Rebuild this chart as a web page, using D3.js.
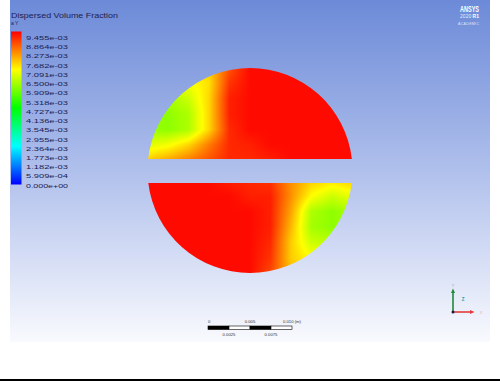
<!DOCTYPE html>
<html>
<head>
<meta charset="utf-8">
<script src="https://cdn.jsdelivr.net/npm/d3@7"></script>
<style>
  html, body { margin: 0; padding: 0; background: #fff; overflow: hidden; }
  svg { display: block; }
</style>
</head>
<body>
<script>
// ---- Legend ----
const legendTitle = "Dispersed Volume Fraction";
const legendSubtitle = "a Y";
const legendLabels = [
  "9.455e-03", "8.864e-03", "8.273e-03", "7.682e-03", "7.091e-03", "6.500e-03",
  "5.909e-03", "5.318e-03", "4.727e-03", "4.136e-03", "3.545e-03", "2.955e-03",
  "2.364e-03", "1.773e-03", "1.182e-03", "5.909e-04", "0.000e+00"
];
const legendMin = 0;       // x 1e-3
const legendMax = 9.455;   // x 1e-3

// ---- Field samples on the cross-section (values x 1e-3) ----
// columns: normalised horizontal position across the pipe (-1 .. 1)
const fieldCols = [-1.0, -0.8, -0.6, -0.4, -0.2, 0.0, 0.2, 0.4, 0.6, 0.8, 1.0];
// upper segment rows: normalised vertical position (top -> cut)
const upperRows = [1.0, 0.85, 0.7, 0.55, 0.4, 0.25, 0.1];
const upperValues = [
  [7.37, 7.37, 7.37, 7.56, 8.70, 9.36, 9.36, 9.36, 9.36, 9.36, 9.36],
  [7.00, 7.00, 7.00, 7.37, 8.98, 9.36, 9.36, 9.36, 9.36, 9.36, 9.36],
  [6.24, 6.24, 6.62, 7.47, 9.17, 9.36, 9.36, 9.36, 9.36, 9.36, 9.36],
  [6.05, 6.05, 6.33, 7.47, 9.17, 9.36, 9.36, 9.36, 9.36, 9.36, 9.36],
  [6.15, 6.05, 6.33, 7.47, 9.08, 9.36, 9.36, 9.36, 9.36, 9.36, 9.36],
  [6.81, 7.00, 7.47, 8.32, 9.08, 9.17, 9.36, 9.36, 9.36, 9.36, 9.36],
  [7.56, 7.94, 8.32, 8.70, 9.08, 9.08, 9.17, 9.36, 9.36, 9.36, 9.36]
];
// lower segment rows: normalised vertical position (cut -> bottom)
const lowerRows = [-0.1, -0.25, -0.4, -0.55, -0.7, -0.85, -1.0];
const lowerValues = [
  [9.36, 9.36, 9.36, 9.36, 9.17, 9.08, 8.98, 8.13, 7.56, 7.37, 7.56],
  [9.36, 9.36, 9.36, 9.36, 9.36, 9.17, 9.17, 8.13, 7.09, 6.62, 6.90],
  [9.36, 9.36, 9.36, 9.36, 9.36, 9.36, 9.17, 7.94, 6.33, 6.05, 6.33],
  [9.36, 9.36, 9.36, 9.36, 9.36, 9.36, 9.17, 7.75, 6.24, 6.05, 6.24],
  [9.36, 9.36, 9.36, 9.36, 9.36, 9.36, 9.08, 7.56, 6.62, 6.43, 6.62],
  [9.36, 9.36, 9.36, 9.36, 9.36, 9.36, 8.98, 7.56, 7.09, 7.09, 7.09],
  [9.36, 9.36, 9.36, 9.36, 9.36, 9.36, 8.79, 7.75, 7.19, 7.19, 7.19]
];
// the removed band between the two segments (normalised vertical)
const cutUpper = 0.112;
const cutLower = -0.122;

// ---- Scale bar ----
const scaleTopValues = [0, 0.005, 0.01];
const scaleTopLabels = ["0", "0.005", "0.010 (m)"];
const scaleBottomValues = [0.0025, 0.0075];
const scaleBottomLabels = ["0.0025", "0.0075"];

// ---- Drawing ----
const W = 500, H = 381;
const svg = d3.select("body").append("svg").attr("width", W).attr("height", H);
const defs = svg.append("defs");

// viewport background: blue-to-white gradient
const bg = defs.append("linearGradient").attr("id", "bg")
  .attr("x1", 0).attr("y1", 0).attr("x2", 0).attr("y2", 1);
bg.append("stop").attr("offset", 0).attr("stop-color", "rgb(108,138,216)");
bg.append("stop").attr("offset", 0.5).attr("stop-color", "rgb(176,192,236)");
bg.append("stop").attr("offset", 1).attr("stop-color", "rgb(249,250,254)");
svg.append("rect").attr("x", 10).attr("y", 0).attr("width", 480).attr("height", 342)
  .attr("fill", "url(#bg)");

// bottom rule
svg.append("rect").attr("x", 0).attr("y", 379).attr("width", W).attr("height", 2).attr("fill", "#000");

// colour map: rainbow hue from blue (min) to red (max)
const hue = d3.scaleLinear().domain([legendMin, legendMax]).range([240, 0]).clamp(true);
const colorOf = v => d3.hsl(hue(v), 1, 0.5).rgb();

// geometry of the section
const cx = 250, cy = 170.5, R = 102.5;
const xU = d3.scaleLinear().domain([-1, 1]).range([cx - R, cx + R]);
const yV = d3.scaleLinear().domain([-1, 1]).range([cy + R, cy - R]);
const colIndex = d3.scaleLinear().domain([fieldCols[0], fieldCols[fieldCols.length - 1]])
  .range([0, fieldCols.length - 1]).clamp(true);

function sampler(rows, values) {
  const rowIndex = d3.scaleLinear().domain([rows[0], rows[rows.length - 1]])
    .range([0, rows.length - 1]).clamp(true);
  return (u, v) => {
    const ci = colIndex(u), ri = rowIndex(v);
    const i0 = Math.floor(ci), j0 = Math.floor(ri);
    const i1 = Math.min(i0 + 1, fieldCols.length - 1), j1 = Math.min(j0 + 1, rows.length - 1);
    const tx = ci - i0, ty = ri - j0;
    const a = values[j0][i0] * (1 - tx) + values[j0][i1] * tx;
    const b = values[j1][i0] * (1 - tx) + values[j1][i1] * tx;
    return a * (1 - ty) + b * ty;
  };
}
const upperField = sampler(upperRows, upperValues);
const lowerField = sampler(lowerRows, lowerValues);

// rasterise the contour field
const canvas = document.createElement("canvas");
canvas.width = W; canvas.height = H;
const ctx = canvas.getContext("2d");
const img = ctx.createImageData(W, H);
const x0 = Math.floor(xU(-1)) - 2, x1 = Math.ceil(xU(1)) + 2;
const y0 = Math.floor(yV(1)) - 2, y1 = Math.ceil(yV(-1)) + 2;
for (let py = y0; py <= y1; py++) {
  const v = yV.invert(py + 0.5);
  for (let px = x0; px <= x1; px++) {
    const u = xU.invert(px + 0.5);
    const val = v > 0 ? upperField(u, v) : lowerField(u, v);
    const c = colorOf(val);
    const k = (py * W + px) * 4;
    img.data[k] = c.r; img.data[k + 1] = c.g; img.data[k + 2] = c.b; img.data[k + 3] = 255;
  }
}
ctx.putImageData(img, 0, 0);

// clip to the two circular segments
function segmentPath(vCut, upper) {
  const y = yV(vCut);
  const dy = (y - cy);
  const dx = Math.sqrt(R * R - dy * dy);
  return `M${cx - dx},${y}A${R},${R} 0 0 ${upper ? 1 : 0} ${cx + dx},${y}Z`;
}
const clip = defs.append("clipPath").attr("id", "section");
clip.append("path").attr("d", segmentPath(cutUpper, true));
clip.append("path").attr("d", segmentPath(cutLower, false));
svg.append("image").attr("x", 0).attr("y", 0).attr("width", W).attr("height", H)
  .attr("href", canvas.toDataURL()).attr("clip-path", "url(#section)");

// ---- Legend ----
const textColor = "#1d2150";
svg.append("text").attr("x", 11).attr("y", 17.5).attr("font-family", "Liberation Sans, Arial, sans-serif")
  .attr("font-size", 7.2).attr("fill", textColor)
  .attr("textLength", 107).attr("lengthAdjust", "spacingAndGlyphs").text(legendTitle);
svg.append("text").attr("x", 11).attr("y", 25).attr("font-family", "Liberation Sans, Arial, sans-serif")
  .attr("font-size", 5).attr("fill", textColor).text(legendSubtitle);

const barGrad = defs.append("linearGradient").attr("id", "bar")
  .attr("x1", 0).attr("y1", 1).attr("x2", 0).attr("y2", 0);
d3.range(0, 1.0001, 1 / 24).forEach(t => {
  barGrad.append("stop").attr("offset", t)
    .attr("stop-color", colorOf(legendMin + t * (legendMax - legendMin)).formatHex());
});
svg.append("rect").attr("x", 11).attr("y", 31.5).attr("width", 10.5).attr("height", 153)
  .attr("fill", "url(#bar)");

const labelY = d3.scaleLinear().domain([0, legendLabels.length - 1]).range([37.8, 185.5]);
svg.append("g").selectAll("text").data(legendLabels).join("text")
  .attr("x", 26).attr("y", (d, i) => labelY(i) + 2.2)
  .attr("font-family", "Liberation Sans, Arial, sans-serif").attr("font-size", 6.2)
  .attr("fill", textColor)
  .attr("textLength", d => d.length === 9 ? 42 : 42)
  .attr("lengthAdjust", "spacingAndGlyphs")
  .text(d => d);

// ---- Product badge ----
const badge = svg.append("g").attr("font-family", "Liberation Sans, Arial, sans-serif").attr("fill", "#fff");
badge.append("text").attr("x", 479).attr("y", 12).attr("text-anchor", "end")
  .attr("font-size", 8.5).attr("font-weight", "bold")
  .attr("textLength", 19).attr("lengthAdjust", "spacingAndGlyphs").text("ANSYS");
const rel = badge.append("text").attr("x", 479).attr("y", 17.5).attr("text-anchor", "end").attr("font-size", 5);
rel.append("tspan").attr("fill-opacity", 0.85).text("2020 ");
rel.append("tspan").attr("font-weight", "bold").text("R1");
badge.append("text").attr("x", 479).attr("y", 25).attr("text-anchor", "end")
  .attr("font-size", 3.6).attr("fill-opacity", 0.8)
  .attr("textLength", 21).attr("lengthAdjust", "spacing").text("ACADEMIC");

// ---- Scale bar ----
const sx = d3.scaleLinear().domain([0, 0.01]).range([208, 292]);
const sb = svg.append("g");
const quarters = [0, 0.0025, 0.005, 0.0075];
sb.selectAll("rect").data(quarters).join("rect")
  .attr("x", d => sx(d)).attr("y", 326).attr("width", sx(0.0025) - sx(0))
  .attr("height", 3.5)
  .attr("fill", (d, i) => i % 2 === 0 ? "#000" : "#fff")
  .attr("stroke", "#000").attr("stroke-width", 0.6);
sb.selectAll("text.top").data(scaleTopValues).join("text").attr("class", "top")
  .attr("x", d => sx(d)).attr("y", 323)
  .attr("text-anchor", (d, i) => i === 0 ? "start" : (i === 1 ? "middle" : "middle"))
  .attr("font-family", "Liberation Sans, Arial, sans-serif").attr("font-size", 4.2).attr("fill", "#333")
  .text((d, i) => scaleTopLabels[i]);
sb.selectAll("text.bot").data(scaleBottomValues).join("text").attr("class", "bot")
  .attr("x", d => sx(d)).attr("y", 335.5).attr("text-anchor", "middle")
  .attr("font-family", "Liberation Sans, Arial, sans-serif").attr("font-size", 4.2).attr("fill", "#333")
  .text((d, i) => scaleBottomLabels[i]);

// ---- Axis triad ----
const tri = svg.append("g");
const ox = 453, oy = 312;
tri.append("line").attr("x1", ox).attr("y1", oy).attr("x2", ox).attr("y2", 292)
  .attr("stroke", "#1f8a3a").attr("stroke-width", 1.6);
tri.append("path").attr("d", `M${ox - 2},${293}L${ox},${288.5}L${ox + 2},${293}Z`).attr("fill", "#1f8a3a");
tri.append("line").attr("x1", ox).attr("y1", oy).attr("x2", 471).attr("y2", oy)
  .attr("stroke", "#e23a3a").attr("stroke-width", 1.6);
tri.append("path").attr("d", `M${470},${oy - 2}L${474.5},${oy}L${470},${oy + 2}Z`).attr("fill", "#e23a3a");
tri.append("circle").attr("cx", ox).attr("cy", oy).attr("r", 1.5).attr("fill", "#1a1a40");
tri.append("text").attr("x", ox).attr("y", 287).attr("text-anchor", "middle")
  .attr("font-family", "Liberation Sans, Arial, sans-serif").attr("font-size", 4).attr("fill", "#9aa6b8").text("Y");
tri.append("text").attr("x", 481).attr("y", 313.5).attr("text-anchor", "middle")
  .attr("font-family", "Liberation Sans, Arial, sans-serif").attr("font-size", 4).attr("fill", "#e0b0b0").text("X");
tri.append("text").attr("x", 463).attr("y", 301).attr("text-anchor", "middle")
  .attr("font-family", "Liberation Sans, Arial, sans-serif").attr("font-size", 4.5).attr("font-weight", "bold")
  .attr("fill", "#1aa0a0").text("Z");
</script>
</body>
</html>
